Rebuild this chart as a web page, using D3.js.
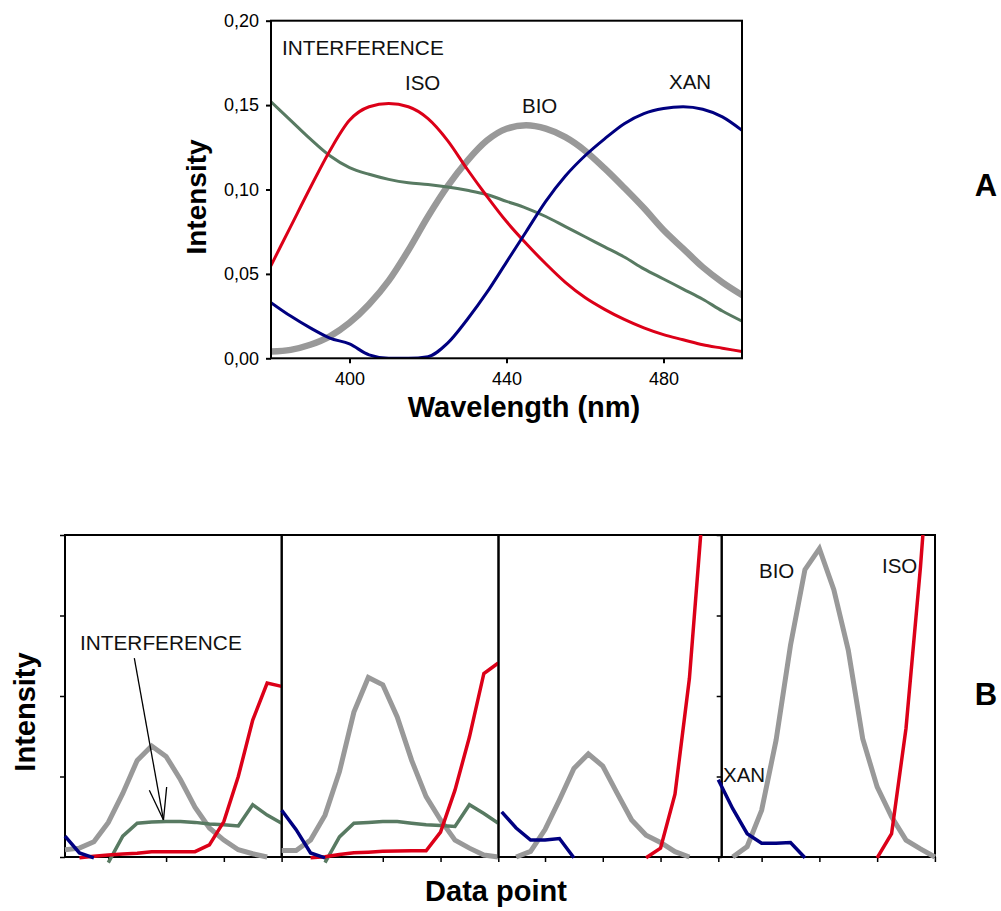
<!DOCTYPE html>
<html><head><meta charset="utf-8">
<script src="https://cdn.jsdelivr.net/npm/d3@7"></script>
<style>
body{margin:0;background:#fff}
svg{display:block}
text{font-family:"Liberation Sans",Arial,sans-serif}
</style>
</head><body>
<svg id="c" width="1001" height="911"></svg>
<script>
// ---------- DATA: chart A ----------
const wavelengths = [380,385,390,395,400,405,410,415,420,425,430,435,440,445,450,455,460,465,470,475,480,485,490,495,500];
const isoA   = [0.055,0.078,0.101,0.123,0.141,0.149,0.151,0.149,0.142,0.129,0.112,0.096,0.081,0.068,0.056,0.045,0.036,0.029,0.023,0.018,0.014,0.011,0.008,0.006,0.004];
const interfA= [0.152,0.141,0.130,0.120,0.113,0.109,0.106,0.104,0.103,0.1015,0.0995,0.097,0.093,0.089,0.084,0.078,0.072,0.066,0.060,0.053,0.047,0.041,0.035,0.028,0.022];
const bioA   = [0.004,0.005,0.008,0.013,0.021,0.032,0.046,0.064,0.084,0.102,0.117,0.129,0.136,0.138,0.136,0.131,0.123,0.1125,0.101,0.089,0.076,0.065,0.054,0.045,0.0375];
const xanA   = [0.033,0.025,0.018,0.012,0.0085,0.002,0,0,0.001,0.009,0.023,0.039,0.057,0.075,0.093,0.108,0.120,0.130,0.139,0.145,0.148,0.149,0.1475,0.143,0.135];
const yTicksA = [0, 0.05, 0.10, 0.15, 0.20];
const xTicksA = [400, 440, 480];

// ---------- DATA: chart B (4 panels, data point index 0..15) ----------
const n = null;
const bioB = [
  [0.09,0.11,0.19,0.43,0.79,1.20,1.38,1.25,0.96,0.62,0.36,0.21,0.09,0.04,0.0,n],
  [0.08,0.08,0.21,0.52,1.06,1.80,2.23,2.14,1.74,1.20,0.75,0.46,0.21,0.11,0.025,0.0],
  [n,0.0,0.07,0.34,0.71,1.10,1.28,1.13,0.79,0.46,0.27,0.18,0.066,0.0,n,n],
  [n,0.0,0.13,0.58,1.45,2.63,3.57,3.83,3.32,2.57,1.47,0.87,0.50,0.21,0.10,0.0]
];
const interfB = [
  [n,n,n,-0.07,0.26,0.42,0.435,0.44,0.44,0.43,0.41,0.40,0.385,0.65,0.52,0.42],
  [n,n,n,-0.07,0.25,0.42,0.43,0.44,0.44,0.42,0.40,0.39,0.38,0.65,0.54,0.42],
  [n,n,n,n,n,n,n,n,n,n,n,n,n,n,n,n],
  [n,n,n,n,n,n,n,n,n,n,n,n,n,n,n,n]
];
const isoB = [
  [n,-0.01,0.01,0.025,0.036,0.046,0.066,0.066,0.066,0.066,0.15,0.44,1.0,1.70,2.16,2.12],
  [n,n,-0.01,0.004,0.03,0.053,0.06,0.07,0.075,0.078,0.078,0.31,0.83,1.49,2.28,2.41],
  [n,n,n,n,n,n,n,n,n,n,-0.01,0.11,0.78,2.22,4.5,n],
  [n,n,n,n,n,n,n,n,n,n,n,-0.01,0.29,1.6,3.6,6.0]
];
const xanB = [
  [0.26,0.05,-0.01,n,n,n,n,n,n,n,n,n,n,n,n,n],
  [0.58,0.34,0.05,-0.01,n,n,n,n,n,n,n,n,n,n,n,n],
  [0.56,0.36,0.21,0.21,0.23,-0.01,n,n,n,n,n,n,n,n,n,n],
  [0.96,0.60,0.29,0.17,0.17,0.18,-0.01,n,n,n,n,n,n,n,n,n]
];
const yTicksB = [0, 1, 2, 3, 4];
const xTicksB = [3, 7, 11, 15];
// annotation arrow in panel 1 (data units: index, intensity)
const arrowMain = [[4.80, 2.47], [6.82, 0.46]];
const arrowBarbL = [[5.84, 0.83], [6.82, 0.46]];
const arrowBarbR = [[7.04, 0.87], [6.82, 0.46]];

// ---------- STYLE ----------
const C = {iso:"#dc0018", xan:"#000080", interf:"#587a62", bio:"#999999"};
const svg = d3.select("#c");

// ================= CHART A =================
const A = {l:271, r:742, t:20.7, b:358.3};
const xA = d3.scaleLinear().domain([380,500]).range([A.l, A.r]);
const yA = d3.scaleLinear().domain([0,0.20]).range([A.b, A.t]);
const fmt = v => d3.format(".2f")(v).replace(".", ",");

svg.append("clipPath").attr("id","clipA").append("rect")
  .attr("x",A.l).attr("y",A.t).attr("width",A.r-A.l).attr("height",A.b-A.t);

const gA = svg.append("g");
const lineA = arr => d3.line()
  .x((d,i)=>xA(wavelengths[i])).y(d=>yA(d))
  .curve(d3.curveMonotoneX)(arr);

const gLinesA = gA.append("g").attr("clip-path","url(#clipA)");
[[bioA,C.bio,6.5],[interfA,C.interf,3],[isoA,C.iso,3],[xanA,C.xan,3]].forEach(([arr,col,w])=>{
  gLinesA.append("path").attr("d",lineA(arr)).attr("fill","none")
    .attr("stroke",col).attr("stroke-width",w).attr("stroke-linejoin","round").attr("stroke-linecap","round");
});

gA.append("rect").attr("x",A.l).attr("y",A.t).attr("width",A.r-A.l).attr("height",A.b-A.t)
  .attr("fill","none").attr("stroke","#000").attr("stroke-width",2);

const axYA = gA.append("g").attr("transform",`translate(${A.l},0)`)
  .call(d3.axisLeft(yA).tickValues(yTicksA).tickSize(5).tickPadding(7).tickFormat(fmt));
const axXA = gA.append("g").attr("transform",`translate(0,${A.b})`)
  .call(d3.axisBottom(xA).tickValues(xTicksA).tickSize(5).tickPadding(9));
[axYA, axXA].forEach(ax=>{
  ax.select(".domain").remove();
  ax.selectAll(".tick line").attr("stroke","#000").attr("stroke-width",2);
  ax.selectAll(".tick text").attr("font-size",18).attr("fill","#000")
    .attr("font-family",'"Liberation Sans",Arial,sans-serif');
});

gA.append("text").attr("x",524).attr("y",417).attr("text-anchor","middle")
  .attr("font-size",29).attr("font-weight","bold").text("Wavelength (nm)");
gA.append("text").attr("transform","translate(206,197) rotate(-90)").attr("text-anchor","middle")
  .attr("font-size",28).attr("font-weight","bold").text("Intensity");

const labA = [["INTERFERENCE",282,55,20.8],["ISO",405,90,20.5],["BIO",522,113,20.5],["XAN",669,89,20.5]];
labA.forEach(([t,x,y,fs])=>gA.append("text").attr("x",x).attr("y",y).attr("font-size",fs).attr("fill","#111").text(t));

svg.append("text").attr("x",986).attr("y",196).attr("text-anchor","middle")
  .attr("font-size",31).attr("font-weight","bold").text("A");

// ================= CHART B =================
const B = {t:535, b:857};
const yB = d3.scaleLinear().domain([0,4]).range([B.b, B.t]);
const step = 14.44;
const panels = [
  {l:65,    r:281.7, x0:65,    leftTicks:true},
  {l:281.7, r:498.5, x0:281.7, leftTicks:false},
  {l:498.5, r:721.7, x0:501.7, leftTicks:false},
  {l:721.7, r:935,   x0:718.3, leftTicks:true}
];
const gB = svg.append("g");
panels.forEach((p,pi)=>{
  const x = d3.scaleLinear().domain([0,15]).range([p.x0, p.x0+15*step]);
  p.x = x;
  const cid = "clipB"+pi;
  svg.append("clipPath").attr("id",cid).append("rect")
    .attr("x",p.l-8).attr("y",B.t).attr("width",p.r-p.l+16).attr("height",B.b-B.t+8);
  const g = gB.append("g");
  // x ticks
  const ax = g.append("g").attr("transform",`translate(0,${B.b})`)
    .call(d3.axisBottom(x).tickValues(xTicksB).tickSize(5).tickFormat(""));
  ax.select(".domain").remove();
  ax.selectAll(".tick line").attr("stroke","#000").attr("stroke-width",1.5);
  if(p.leftTicks){
    const ay = g.append("g").attr("transform",`translate(${p.l},0)`)
      .call(d3.axisLeft(yB).tickValues(yTicksB).tickSize(5).tickFormat(""));
    ay.select(".domain").remove();
    ay.selectAll(".tick line").attr("stroke","#000").attr("stroke-width",1.5);
  }
  // frame
  g.append("rect").attr("x",p.l).attr("y",B.t).attr("width",p.r-p.l).attr("height",B.b-B.t)
    .attr("fill","none").attr("stroke","#000").attr("stroke-width",2);
  const gl = g.append("g").attr("clip-path",`url(#${cid})`);
  const line = d3.line().defined(d=>d!==null).x((d,i)=>x(i)).y(d=>yB(d));
  [[bioB[pi],C.bio,5],[interfB[pi],C.interf,3.5],[isoB[pi],C.iso,3.5],[xanB[pi],C.xan,3.5]].forEach(([arr,col,w])=>{
    if(!arr.some(v=>v!==null)) return;
    gl.append("path").attr("d",line(arr)).attr("fill","none").attr("stroke",col)
      .attr("stroke-width",w).attr("stroke-linejoin","miter");
  });
});

// arrow annotation in panel 1
const p1 = panels[0];
const aLine = d3.line().x(d=>p1.x(d[0])).y(d=>yB(d[1]));
[arrowMain, arrowBarbL, arrowBarbR].forEach(a=>{
  gB.append("path").attr("d",aLine(a)).attr("fill","none").attr("stroke","#000").attr("stroke-width",1.3);
});

const labB = [["INTERFERENCE",80,650,20.8],["BIO",759,578,20.5],["ISO",882,573,20.5],["XAN",723,782,20.5]];
labB.forEach(([t,x,y,fs])=>gB.append("text").attr("x",x).attr("y",y).attr("font-size",fs).attr("fill","#111").text(t));

gB.append("text").attr("x",496).attr("y",901).attr("text-anchor","middle")
  .attr("font-size",29).attr("font-weight","bold").text("Data point");
gB.append("text").attr("transform","translate(35,712) rotate(-90)").attr("text-anchor","middle")
  .attr("font-size",29).attr("font-weight","bold").text("Intensity");
svg.append("text").attr("x",986).attr("y",705).attr("text-anchor","middle")
  .attr("font-size",31).attr("font-weight","bold").text("B");
</script>
</body></html>
